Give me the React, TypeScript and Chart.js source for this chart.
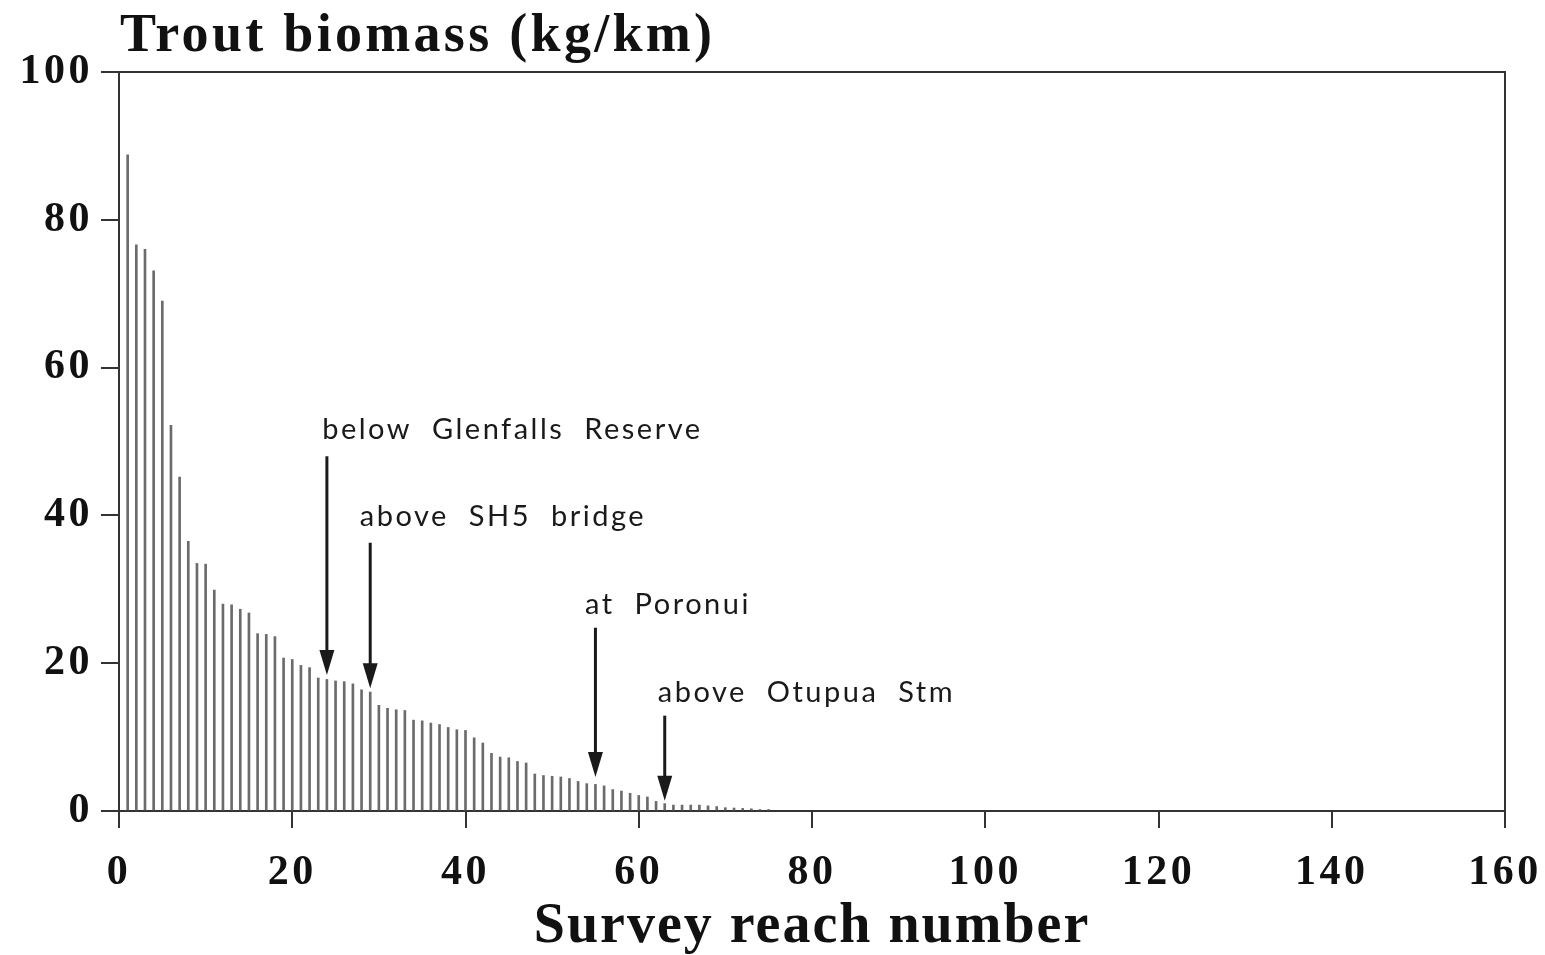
import { useEffect, useRef } from "react";
import { Chart, registerables } from "chart.js";

Chart.register(...registerables);

// ---- Data ----
const reaches = [
  1, 2, 3, 4, 5, 6, 7, 8, 9, 10, 11, 12, 13, 14, 15, 16, 17, 18, 19, 20,
  21, 22, 23, 24, 25, 26, 27, 28, 29, 30, 31, 32, 33, 34, 35, 36, 37, 38, 39, 40,
  41, 42, 43, 44, 45, 46, 47, 48, 49, 50, 51, 52, 53, 54, 55, 56, 57, 58, 59, 60,
  61, 62, 63, 64, 65, 66, 67, 68, 69, 70, 71, 72, 73, 74, 75,
];
const biomass = [
  88.8, 76.6, 76.0, 73.1, 69.0, 52.2, 45.2, 36.5, 33.5, 33.4,
  29.9, 28.0, 27.9, 27.3, 26.8, 24.0, 23.9, 23.6, 20.7, 20.5,
  19.7, 19.4, 18.0, 17.8, 17.6, 17.5, 17.2, 16.4, 16.1, 14.3,
  13.9, 13.7, 13.6, 12.3, 12.2, 11.9, 11.7, 11.3, 11.0, 10.9,
  9.9, 9.2, 7.8, 7.3, 7.2, 6.7, 6.5, 5.0, 4.8, 4.7,
  4.6, 4.4, 4.0, 3.7, 3.6, 3.4, 2.9, 2.7, 2.4, 2.1,
  1.9, 1.3, 1.0, 0.8, 0.8, 0.8, 0.8, 0.7, 0.6, 0.45,
  0.4, 0.35, 0.3, 0.2, 0.2,
];
const xTickValues = [0, 20, 40, 60, 80, 100, 120, 140, 160];
const yTickValues = [0, 20, 40, 60, 80, 100];

const chartTitle = "Trout biomass (kg/km)";
const xAxisTitle = "Survey reach number";

const annotationLabels = [
  "below Glenfalls Reserve",
  "above SH5 bridge",
  "at Poronui",
  "above Otupua Stm",
];
const annotationReach = [24, 29, 55, 63];
const annotationTextX = [23.45, 27.8, 53.8, 62.2];
const annotationTextY = [51.6, 39.8, 27.9, 16.0];
const arrowFromY = [48.0, 36.3, 24.8, 12.9];
const arrowToY = [18.4, 16.6, 4.6, 1.4];

const overlayPlugin = {
  id: "overlay",
  beforeDraw(chart: any) {
    chart.ctx.letterSpacing = "3.5px";
  },
  beforeDatasetsDraw(chart: any) {
    chart.ctx.letterSpacing = "0px";
  },
  afterDraw(chart: any) {
    const { ctx, chartArea, scales } = chart;
    const xs = scales.x;
    const ys = scales.y;
    ctx.save();
    ctx.letterSpacing = "0px";
    // frame (top + right)
    ctx.strokeStyle = "#333";
    ctx.lineWidth = 2;
    ctx.beginPath();
    ctx.moveTo(chartArea.left, chartArea.top);
    ctx.lineTo(chartArea.right, chartArea.top);
    ctx.lineTo(chartArea.right, chartArea.bottom);
    ctx.stroke();

    // chart title
    ctx.fillStyle = "#111";
    ctx.font = "bold 54px 'Liberation Serif'";
    ctx.letterSpacing = "3.3px";
    ctx.textAlign = "left";
    ctx.textBaseline = "alphabetic";
    ctx.fillText(chartTitle, 120, 51);

    // x axis title
    ctx.font = "bold 56px 'Liberation Serif'";
    ctx.letterSpacing = "2px";
    ctx.textAlign = "center";
    ctx.fillText(xAxisTitle, (chartArea.left + chartArea.right) / 2, 942);

    // annotations
    ctx.font = "29px Lato";
    ctx.letterSpacing = "2.5px";
    (ctx as any).wordSpacing = "10px";
    ctx.textAlign = "left";
    ctx.textBaseline = "middle";
    ctx.fillStyle = "#1a1a1a";
    for (let i = 0; i < annotationLabels.length; i++) {
      ctx.fillText(
        annotationLabels[i],
        xs.getPixelForValue(annotationTextX[i]),
        ys.getPixelForValue(annotationTextY[i])
      );
      const ax = xs.getPixelForValue(annotationReach[i]);
      const y1 = ys.getPixelForValue(arrowFromY[i]);
      const y2 = ys.getPixelForValue(arrowToY[i]);
      ctx.strokeStyle = "#1a1a1a";
      ctx.lineWidth = 3;
      ctx.beginPath();
      ctx.moveTo(ax, y1);
      ctx.lineTo(ax, y2 - 20);
      ctx.stroke();
      ctx.beginPath();
      ctx.moveTo(ax - 7.5, y2 - 25);
      ctx.lineTo(ax + 7.5, y2 - 25);
      ctx.lineTo(ax, y2);
      ctx.closePath();
      ctx.fill();
    }
    (ctx as any).wordSpacing = "0px";
    ctx.restore();
  },
};

export default function App() {
  const canvasRef = useRef<HTMLCanvasElement | null>(null);

  useEffect(() => {
    if (!canvasRef.current) return;
    const chart = new Chart(canvasRef.current, {
      type: "bar",
      data: {
        datasets: [
          {
            data: reaches.map((r, i) => ({ x: r, y: biomass[i] })),
            backgroundColor: "#6b6b6b",
            borderWidth: 0,
            barThickness: 2,
          },
        ],
      },
      plugins: [overlayPlugin],
      options: {
        animation: false,
        responsive: false,
        maintainAspectRatio: false,
        layout: { padding: { left: 0, top: 72, right: 40, bottom: 0 } },
        plugins: {
          legend: { display: false },
          tooltip: { enabled: false },
          title: { display: false },
        },
        scales: {
          x: {
            type: "linear",
            min: 0,
            max: 160,
            offset: false,
            afterBuildTicks: (scale: any) => {
              scale.ticks = xTickValues.map((v) => ({ value: v }));
            },
            afterFit: (scale: any) => {
              scale.height = 144;
              scale.paddingLeft = 0;
              scale.paddingRight = 0;
            },
            grid: {
              drawOnChartArea: false,
              drawTicks: true,
              tickLength: 17,
              color: "#333",
              lineWidth: 2,
              offset: false,
            },
            border: { display: true, color: "#333", width: 2 },
            ticks: {
              color: "#111",
              padding: 20,
              maxRotation: 0,
              font: { family: "'Liberation Serif'", weight: "bold", size: 42 },
            },
          },
          y: {
            type: "linear",
            min: 0,
            max: 100,
            afterBuildTicks: (scale: any) => {
              scale.ticks = yTickValues.map((v) => ({ value: v }));
            },
            afterFit: (scale: any) => {
              scale.width = 119;
              scale.paddingTop = 0;
              scale.paddingBottom = 0;
            },
            grid: {
              drawOnChartArea: false,
              drawTicks: true,
              tickLength: 18,
              color: "#333",
              lineWidth: 2,
            },
            border: { display: true, color: "#333", width: 2 },
            ticks: {
              color: "#111",
              padding: 8,
              font: { family: "'Liberation Serif'", weight: "bold", size: 42 },
            },
          },
        },
      } as any,
    });
    return () => chart.destroy();
  }, []);

  return (
    <div style={{ position: "fixed", left: 0, top: 0, width: 1545, height: 955, background: "#fff" }}>
      <canvas ref={canvasRef} width={1545} height={955} style={{ width: 1545, height: 955, display: "block" }} />
    </div>
  );
}
